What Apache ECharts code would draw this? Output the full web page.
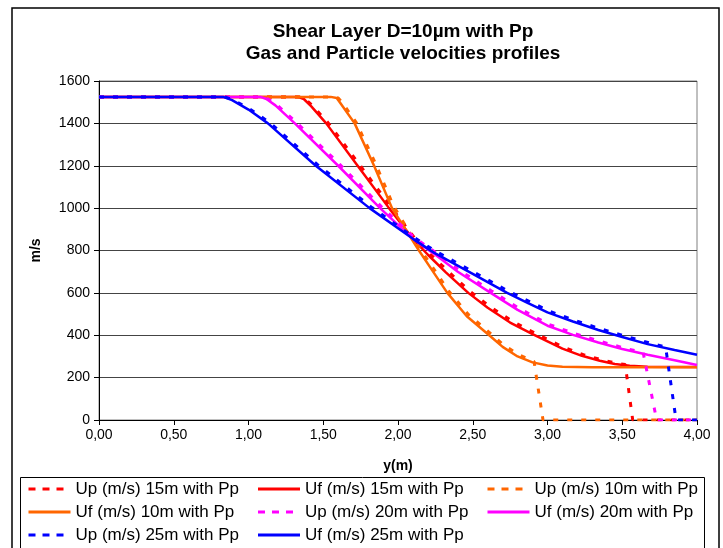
<!DOCTYPE html>
<html>
<head>
<meta charset="utf-8">
<script src="https://cdn.jsdelivr.net/npm/echarts@6/dist/echarts.min.js"></script>
<style>
html,body{margin:0;padding:0;background:#fff;}
#chart{width:723px;height:548px;}
</style>
</head>
<body>
<div id="chart"></div>
<script>
// ---- Data ----
var titleLines = ['Shear Layer D=10\u00b5m with Pp', 'Gas and Particle velocities profiles'];
var xAxisName = 'y(m)';
var yAxisName = 'm/s';
var seriesNames = [
  'Up (m/s) 15m with Pp', 'Uf (m/s) 15m with Pp', 'Up (m/s) 10m with Pp',
  'Uf (m/s) 10m with Pp', 'Up (m/s) 20m with Pp', 'Uf (m/s) 20m with Pp',
  'Up (m/s) 25m with Pp', 'Uf (m/s) 25m with Pp'
];

var up15 = [[0,1525],[1.34,1525],[1.38,1515],[1.43,1482],[1.53,1405],[1.74,1208],[1.95,1008],[2.11,860],[2.21,787],[2.33,705],[2.48,608],[2.61,538],[2.76,468],[2.91,412],[3.01,377],[3.11,343],[3.24,308],[3.36,285],[3.46,268],[3.52,262],[3.57,0],[4.0,0]];
var uf15 = [[0,1525],[1.33,1525],[1.37,1515],[1.42,1480],[1.52,1400],[1.73,1200],[1.94,1000],[2.1,855],[2.2,780],[2.32,697],[2.47,600],[2.6,530],[2.75,460],[2.9,405],[3.0,371],[3.1,337],[3.23,303],[3.35,280],[3.45,264],[3.55,256],[3.67,251],[4.0,250]];
var up10 = [[0,1525],[1.56,1525],[1.60,1520],[1.63,1495],[1.72,1405],[1.85,1210],[1.97,1010],[2.06,905],[2.15,805],[2.24,712],[2.34,608],[2.47,498],[2.62,408],[2.71,352],[2.81,308],[2.91,276],[2.97,0],[4.0,0]];
var uf10 = [[0,1525],[1.55,1525],[1.59,1520],[1.62,1490],[1.71,1400],[1.84,1200],[1.96,1000],[2.05,900],[2.14,800],[2.23,705],[2.33,600],[2.46,490],[2.61,400],[2.7,345],[2.8,300],[2.9,272],[3.0,257],[3.1,251],[3.3,249],[4.0,249]];
var up20 = [[0,1525],[1.09,1525],[1.13,1515],[1.19,1487],[1.32,1405],[1.61,1207],[1.89,1006],[2.11,860],[2.24,797],[2.41,707],[2.63,607],[2.81,527],[3.01,451],[3.18,408],[3.35,372],[3.51,340],[3.64,318],[3.73,0],[4.0,0]];
var uf20 = [[0,1525],[1.08,1525],[1.12,1515],[1.18,1485],[1.31,1400],[1.6,1200],[1.88,1000],[2.1,855],[2.23,790],[2.4,700],[2.62,600],[2.8,520],[3.0,445],[3.17,402],[3.34,366],[3.5,335],[3.67,308],[3.85,282],[4.0,260]];
var up25 = [[0,1525],[0.84,1525],[0.9,1510],[1.01,1467],[1.14,1405],[1.46,1206],[1.82,1006],[2.11,860],[2.25,797],[2.51,697],[2.74,607],[2.88,559],[3.01,514],[3.18,471],[3.35,431],[3.51,398],[3.68,364],[3.79,345],[3.86,0],[4.0,0]];
var uf25 = [[0,1525],[0.83,1525],[0.89,1510],[1.0,1465],[1.13,1400],[1.45,1200],[1.81,1000],[2.1,855],[2.24,790],[2.5,690],[2.73,600],[2.87,552],[3.0,508],[3.17,465],[3.34,425],[3.5,392],[3.67,358],[3.85,330],[4.0,308]];

var seriesData = [up15, uf15, up10, uf10, up20, uf20, up25, uf25];
var seriesColors = ['#FF0000','#FF0000','#FF6600','#FF6600','#FF00FF','#FF00FF','#0000FF','#0000FF'];
var seriesDashed = [true,false,true,false,true,false,true,false];

var xMin = 0, xMax = 4, xStep = 0.5;
var yMin = 0, yMax = 1600, yStep = 200;

// ---- Chart ----
var chart = echarts.init(document.getElementById('chart'), null, {renderer:'canvas'});
var FONT = 'Liberation Sans, Arial, sans-serif';

var series = seriesData.map(function(d, i){
  return {
    name: seriesNames[i],
    type: 'line',
    data: d,
    symbol: 'none',
    showSymbol: false,
    smooth: false,
    animation: false,
    lineStyle: {
      color: seriesColors[i],
      width: seriesDashed[i] ? 3 : 2.5,
      type: seriesDashed[i] ? [5, 9] : 'solid'
    },
    itemStyle: {color: seriesColors[i]},
    z: 2 + i
  };
});

var legendData = seriesNames.map(function(n, i){
  return {
    name: n,
    itemStyle: {opacity: 0},
    lineStyle: {type: seriesDashed[i] ? [7, 7] : 'solid', width: 3, color: seriesColors[i], opacity: 1}
  };
});

chart.setOption({
  animation: false,
  backgroundColor: '#fff',
  title: {
    text: titleLines.join('\n'),
    left: 398,
    textAlign: 'center',
    top: 16,
    textStyle: {fontFamily: FONT, fontSize: 19, fontWeight: 'bold', color: '#000', lineHeight: 22}
  },
  grid: {left: 99, right: 26, top: 81, bottom: 128, show: true, borderColor: '#808080', borderWidth: 1, containLabel: false},
  xAxis: {
    type: 'value', min: xMin, max: xMax, interval: xStep,
    name: xAxisName, nameLocation: 'middle', nameGap: 39,
    nameTextStyle: {fontFamily: FONT, fontSize: 14, fontWeight: 'bold', color: '#000'},
    axisLine: {show: true, onZero: false, lineStyle: {color: '#000', width: 1}},
    axisTick: {show: true, inside: false, length: 5, lineStyle: {color: '#000'}},
    axisLabel: {fontFamily: FONT, fontSize: 14, color: '#000', margin: 8,
      formatter: function(v){ return v.toFixed(2).replace('.', ','); }},
    splitLine: {show: false}
  },
  yAxis: {
    type: 'value', min: yMin, max: yMax, interval: yStep,
    name: yAxisName, nameLocation: 'middle', nameGap: 56, nameRotate: 90,
    nameTextStyle: {fontFamily: FONT, fontSize: 14, fontWeight: 'bold', color: '#000'},
    axisLine: {show: true, lineStyle: {color: '#000', width: 1}},
    axisTick: {show: true, inside: false, length: 5, lineStyle: {color: '#000'}},
    axisLabel: {fontFamily: FONT, fontSize: 14, color: '#000', margin: 9,
      formatter: function(v){ return String(v); }},
    splitLine: {show: true, lineStyle: {color: '#444', width: 1}}
  },
  legend: {
    data: legendData,
    left: 27, top: 479, width: 690,
    orient: 'horizontal',
    itemWidth: 42, itemHeight: 12, itemGap: 3,
    itemStyle: {opacity: 0},
    textStyle: {fontFamily: FONT, fontSize: 17, color: '#000', width: 178, overflow: 'none', lineHeight: 20},
    padding: 0
  },
  graphic: [
    {type: 'rect', shape: {x: 12, y: 8, width: 707, height: 600}, style: {fill: null, stroke: '#000', lineWidth: 1.5}, silent: true},
    {type: 'rect', shape: {x: 20.5, y: 477.5, width: 684, height: 100}, style: {fill: null, stroke: '#000', lineWidth: 1}, silent: true}
  ],
  series: series
});
</script>
</body>
</html>
